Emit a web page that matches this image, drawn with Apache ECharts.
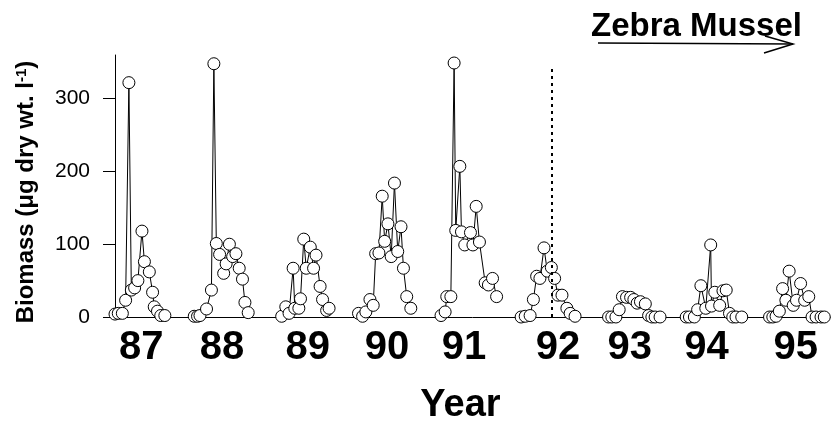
<!DOCTYPE html>
<html>
<head>
	<meta charset="utf-8">
	<title>Zebra Mussel</title>
	<style type="text/css">
		body{
			margin: 0px;
			background: #fff;
		}
		.chart{
			width: 833px;
			height: 423px;
		}
	</style>
	<script type="text/javascript" src="https://cdn.jsdelivr.net/npm/echarts@6/dist/echarts.min.js"></script>
</head>
<body>
	<div id="chart" class="chart"></div>
	<script type="text/javascript">
		// x = season position (label year at its centre), y = biomass
		var year87 = [[86.67,4],[86.71,5],[86.76,5],[86.80,23],[86.84,322],[86.87,37],[86.91,40],[86.95,50],[87.00,118],[87.03,76],[87.09,62],[87.13,34],[87.15,14],[87.19,8],[87.23,2],[87.28,2]];
		var year88 = [[87.64,1],[87.68,1],[87.71,2],[87.79,11],[87.85,37],[87.88,348],[87.91,101],[87.95,86],[88.00,60],[88.03,73],[88.07,100],[88.11,83],[88.15,87],[88.19,67],[88.23,52],[88.26,20],[88.30,6]];
		var year89 = [[88.71,1],[88.76,14],[88.80,5],[88.85,67],[88.87,12],[88.92,12],[88.94,25],[88.98,107],[89.01,67],[89.06,96],[89.10,67],[89.13,85],[89.18,42],[89.21,24],[89.26,9],[89.29,12]];
		var year90 = [[89.65,5],[89.70,1],[89.74,7],[89.79,24],[89.83,16],[89.86,87],[89.90,88],[89.94,166],[89.97,104],[90.01,128],[90.05,83],[90.09,184],[90.13,90],[90.17,124],[90.20,67],[90.24,28],[90.29,12]];
		var year91 = [[90.66,2],[90.71,7],[90.73,28],[90.78,28],[90.82,349],[90.84,119],[90.89,207],[90.91,117],[90.95,99],[91.02,116],[91.05,99],[91.09,152],[91.13,103],[91.20,47],[91.24,44],[91.29,53],[91.34,28]];
		var year92 = [[91.64,0],[91.69,1],[91.75,2],[91.79,24],[91.83,56],[91.87,53],[91.92,95],[91.96,63],[92.01,68],[92.05,53],[92.09,30],[92.14,30],[92.20,12],[92.24,5],[92.30,1]];
		var year93 = [[92.71,0],[92.75,0],[92.80,0],[92.84,10],[92.88,28],[92.93,27],[92.98,27],[93.02,24],[93.06,19],[93.10,21],[93.16,18],[93.20,2],[93.24,0],[93.28,0],[93.34,0]];
		var year94 = [[93.66,0],[93.70,0],[93.76,0],[93.80,10],[93.84,43],[93.90,12],[93.96,99],[93.97,15],[94.01,34],[94.07,16],[94.11,36],[94.15,37],[94.19,5],[94.23,0],[94.27,0],[94.34,0]];
		var year95 = [[94.68,0],[94.72,0],[94.76,1],[94.80,8],[94.84,39],[94.88,23],[94.92,63],[94.97,16],[95.01,23],[95.06,46],[95.11,23],[95.16,28],[95.20,0],[95.25,0],[95.31,0],[95.35,0]];

		var years = [year87, year88, year89, year90, year91, year92, year93, year94, year95];
		var yearLabels = ['87', '88', '89', '90', '91', '92', '93', '94', '95'];
		var yearLabelPos = [86.99, 87.98, 89.03, 90.00, 90.94, 92.09, 92.97, 93.91, 95.00];
		var yTicks = [0, 100, 200, 300];
		var musselStart = 92.015;

		var font = "'Liberation Sans', Arial, sans-serif";

		window.onload = function(){
			var chart = echarts.init(document.getElementById('chart'));

			var series = years.map(function(d, i){
				var s = {
					name: yearLabels[i],
					type: 'line',
					data: d,
					symbol: 'circle',
					symbolSize: 12,
					showAllSymbol: true,
					animation: false,
					lineStyle: { color: '#000', width: 1 },
					itemStyle: { color: '#fff', borderColor: '#000', borderWidth: 1 }
				};
				if(yearLabels[i] === '92'){
					s.markLine = {
						silent: true,
						symbol: 'none',
						label: { show: false },
						lineStyle: { color: '#000', width: 2, type: [3, 4] },
						data: [[{ coord: [musselStart, 0] }, { coord: [musselStart, 346] }]]
					};
				}
				return s;
			});

			chart.setOption({
				backgroundColor: '#fff',
				animation: false,
				title: {
					text: 'Zebra Mussel',
					left: 591,
					top: 10,
					padding: 0,
					textStyle: { fontFamily: font, fontSize: 33, fontWeight: 'bold', color: '#000' }
				},
				grid: {
					left: 115,
					right: 3,
					top: 55,
					bottom: 106,
					outerBoundsMode: 'none'
				},
				xAxis: {
					type: 'value',
					min: 86.67,
					max: 95.42,
					name: 'Year',
					nameLocation: 'middle',
					nameGap: 70,
					nameTextStyle: { fontFamily: font, fontSize: 38, fontWeight: 'bold', color: '#000', padding: [0, 24, 0, 0] },
					splitLine: { show: false },
					axisTick: { show: false },
					axisLine: { lineStyle: { color: '#000', width: 1 } },
					axisLabel: {
						customValues: yearLabelPos,
						margin: 11,
						fontFamily: font,
						fontSize: 40,
						fontWeight: 'bold',
						color: '#000',
						formatter: function(v){
							var best = 0;
							for(var i = 1; i < yearLabelPos.length; i++){
								if(Math.abs(yearLabelPos[i] - v) < Math.abs(yearLabelPos[best] - v)) best = i;
							}
							return yearLabels[best];
						}
					}
				},
				yAxis: {
					type: 'value',
					min: 0,
					max: 360,
					name: 'Biomass (μg dry wt. l{sup|-1})',
					nameLocation: 'middle',
					nameGap: 76,
					nameTextStyle: {
						fontFamily: font, fontSize: 24, fontWeight: 'bold', color: '#000',
						padding: [0, 12, 0, 0],
						rich: {
							sup: { fontFamily: font, fontSize: 15, fontWeight: 'bold', color: '#000', verticalAlign: 'top', padding: [0, 0, 10, 0] }
						}
					},
					splitLine: { show: false },
					axisLine: { show: true, lineStyle: { color: '#000', width: 1 } },
					axisTick: { show: true, length: 12, customValues: yTicks, lineStyle: { color: '#000' } },
					axisLabel: {
						customValues: yTicks,
						margin: 25,
						fontFamily: font,
						fontSize: 21,
						color: '#000'
					}
				},
				graphic: [
					{ type: 'line', shape: { x1: 598, y1: 43, x2: 793, y2: 44 }, style: { stroke: '#000', lineWidth: 1.5 } },
					{ type: 'polyline', shape: { points: [[765, 36], [793, 44], [764, 53]] }, style: { stroke: '#000', lineWidth: 1.5, fill: null } }
				],
				series: series
			});
		}
	</script>
</body>
</html>
